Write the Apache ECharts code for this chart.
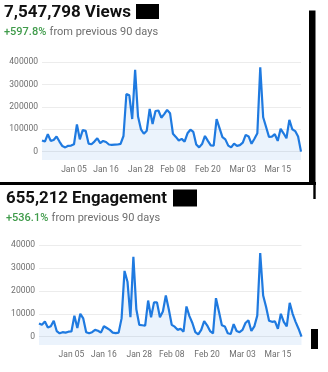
<!DOCTYPE html>
<html>
<head>
<meta charset="utf-8">
<script src="https://cdn.jsdelivr.net/npm/echarts@6/dist/echarts.min.js"></script>
<style>
html,body{margin:0;padding:0;background:#fff;}
#c{width:328px;height:372px;}
</style>
</head>
<body>
<div id="c"></div>
<script>
// Date categories: Dec 25 2023 .. Mar 23 2024 (90 days)
const MONTHS = ['Jan','Feb','Mar','Apr','May','Jun','Jul','Aug','Sep','Oct','Nov','Dec'];
const categories = [];
for (let i = 0; i < 90; i++) {
  const d = new Date(Date.UTC(2023, 11, 25 + i));
  categories.push(MONTHS[d.getUTCMonth()] + ' ' + String(d.getUTCDate()).padStart(2, '0'));
}
const tickLabels = ['Jan 05','Jan 16','Jan 28','Feb 08','Feb 20','Mar 03','Mar 15'];

const viewsTitle = '7,547,798 Views';
const viewsChange = '+597.8%';
const engagementTitle = '655,212 Engagement';
const engagementChange = '+536.1%';
const changeText = 'from previous 90 days';

const views = [
  50000,45000,78000,48000,52000,68000,45000,25000,19000,26000,
  27000,33000,122000,55000,96000,93000,36000,33000,45000,60000,
  38000,48000,43000,32000,30000,31000,32000,35000,70000,258000,
  252000,146000,366000,157000,100000,80000,94000,191000,124000,182000,
  184000,152000,168000,187000,172000,80000,66000,50000,57000,45000,
  82000,98000,88000,32000,19000,34000,70000,48000,28000,27000,
  146000,105000,65000,55000,27000,19000,36000,26000,29000,40000,
  75000,68000,35000,58000,82000,378000,154000,110000,66000,67000,
  78000,48000,102000,82000,60000,142000,100000,92000,68000,0
];
const engagement = [
  5800,5200,6600,4000,4600,7000,2500,1500,2000,1800,
  2200,2300,9200,3800,10000,8000,2000,1500,2000,3000,
  2600,1800,4600,3800,3000,1800,1600,1800,8000,28700,
  24000,8500,34800,12000,5200,5000,4800,15800,8500,15000,
  15000,8500,11000,18000,12000,5200,4400,3000,3500,2200,
  13200,9000,6000,2000,1000,3000,6800,5000,2500,1500,
  16800,11000,5000,4500,1500,1200,5500,2500,2000,3000,
  6000,7200,2500,4500,9200,36500,18000,13000,7000,6500,
  6700,3500,10000,6500,4500,14800,10000,6500,3500,0
];

const FONT = 'Roboto';
const LINE = '#1f7ae0';
const AREA = 'rgba(31,122,224,0.13)';
const GRAY = '#6e6e6e';

function xAxis(gi) {
  return {
    type: 'category', gridIndex: gi, data: categories, boundaryGap: false,
    axisLine: {show: false}, axisTick: {show: false},
    axisLabel: {
      interval: (idx, val) => tickLabels.includes(val),
      color: GRAY, fontSize: 8.5, fontFamily: FONT, margin: 5
    },
    splitLine: {show: false}
  };
}
function yAxis(gi, min, max) {
  return {
    type: 'value', gridIndex: gi, min: min, max: max, splitNumber: 5,
    axisLine: {show: false}, axisTick: {show: false},
    axisLabel: {
      color: GRAY, fontSize: 8.5, fontFamily: FONT, margin: 4,
      formatter: v => (v < 0 ? '' : String(v))
    },
    splitLine: {show: true, showMinLine: false, lineStyle: {color: '#ececec', width: 1}}
  };
}
function lineSeries(gi, data) {
  return {
    type: 'line', xAxisIndex: gi, yAxisIndex: gi, data: data,
    symbol: 'none', smooth: false,
    lineStyle: {color: LINE, width: 2.2},
    areaStyle: {color: AREA, origin: 'start'},
    silent: true
  };
}
const subRich = {
  g: {fontFamily: FONT, fontSize: 11, color: '#3f9b4a', fontWeight: 500},
  t: {fontFamily: FONT, fontSize: 11, color: GRAY}
};

const chart = echarts.init(document.getElementById('c'), null, {renderer: 'canvas'});
chart.setOption({
  animation: false,
  backgroundColor: '#fff',
  title: [
    {
      text: viewsTitle, left: 4, top: 4, padding: 0, itemGap: 5,
      textStyle: {fontFamily: FONT, fontSize: 17, fontWeight: 'bold', color: '#111'},
      subtext: '{g|' + viewsChange + '} {t|' + changeText + '}',
      subtextStyle: {rich: subRich}
    },
    {
      text: engagementTitle, left: 6, top: 190, padding: 0, itemGap: 5,
      textStyle: {fontFamily: FONT, fontSize: 16.8, fontWeight: 'bold', color: '#111'},
      subtext: '{g|' + engagementChange + '} {t|' + changeText + '}',
      subtextStyle: {rich: subRich}
    }
  ],
  grid: [
    {left: 42, right: 27, top: 62.3, bottom: 212},
    {left: 39, right: 26.5, top: 245, bottom: 27}
  ],
  xAxis: [xAxis(0), xAxis(1)],
  yAxis: [yAxis(0, -37500, 400000), yAxis(1, -3600, 40000)],
  series: [lineSeries(0, views), lineSeries(1, engagement)],
  graphic: [
    {type: 'rect', shape: {x: 136, y: 4, width: 23, height: 15}, style: {fill: '#000'}},
    {type: 'rect', shape: {x: 173, y: 189.5, width: 24, height: 17}, style: {fill: '#000'}},
    {type: 'rect', shape: {x: 0, y: 182, width: 316, height: 3}, style: {fill: '#000'}},
    {type: 'rect', shape: {x: 309, y: 10.5, width: 6.5, height: 173}, style: {fill: '#000'}},
    {type: 'rect', shape: {x: 313.3, y: 183, width: 2.4, height: 16}, style: {fill: '#000'}},
    {type: 'rect', shape: {x: 311, y: 329, width: 7, height: 20}, style: {fill: '#000'}}
  ]
});
</script>
</body>
</html>
